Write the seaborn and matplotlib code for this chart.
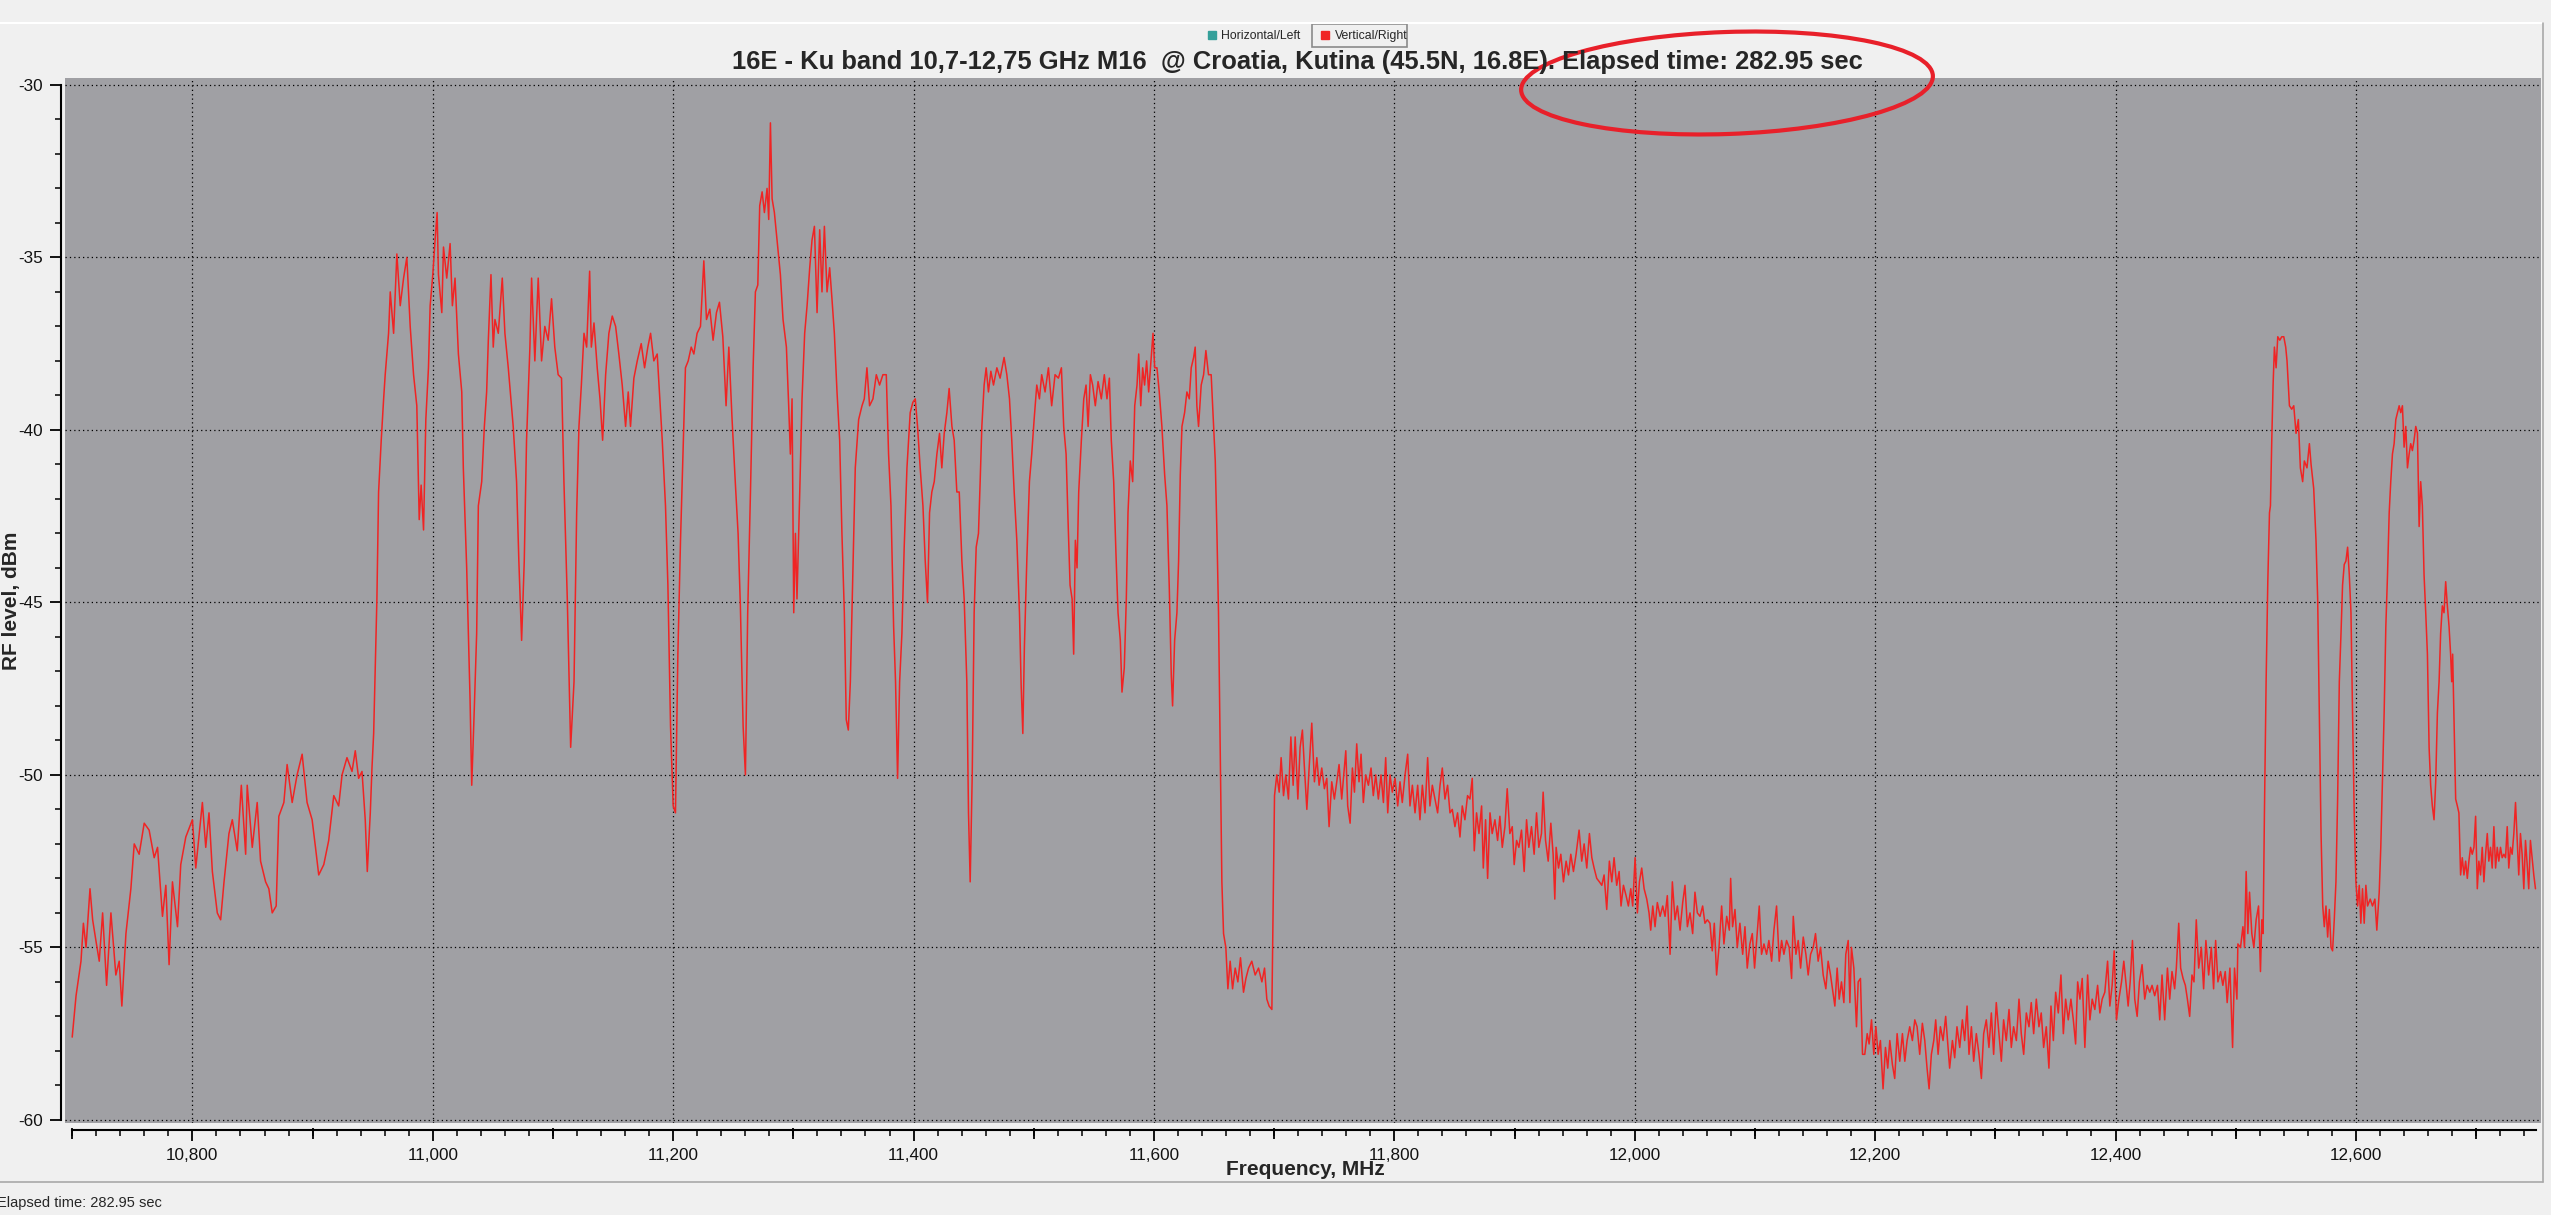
import numpy as np
import pandas as pd
import seaborn as sns
import matplotlib.pyplot as plt
from matplotlib.patches import Ellipse, Rectangle
from matplotlib.lines import Line2D
from matplotlib.ticker import MultipleLocator, FuncFormatter

# spectrum trace (Vertical/Right) as (MHz, dBm)
seg_low = [(10700, -57.6), (10703.2, -56.4), (10707.3, -55.4), (10709.3, -54.3), (10711.5, -55.0), (10714.8, -53.3),
           (10717, -54.2), (10719.7, -54.8), (10722.5, -55.4), (10725.3, -54.0), (10728.6, -56.1), (10732.2, -54.0),
           (10736.3, -55.8), (10739.1, -55.4), (10741.3, -56.7), (10744.7, -54.6), (10748.8, -53.3), (10751.6, -52.0),
           (10755.7, -52.3), (10759.9, -51.4), (10764, -51.6), (10768.2, -52.4), (10771, -52.1), (10775.1, -54.1),
           (10777.9, -53.2), (10780.6, -55.5), (10783.4, -53.1), (10787.6, -54.4), (10790.3, -52.6), (10794.5, -51.8),
           (10800, -51.3), (10802.8, -52.7), (10808.3, -50.8), (10811.1, -52.1), (10813.8, -51.1), (10816.6, -52.8),
           (10820.7, -54.0), (10823.5, -54.2), (10826.3, -53.1), (10830.4, -51.7), (10833.2, -51.3), (10837.3, -52.2),
           (10840.7, -50.3), (10844.3, -52.3), (10845.6, -50.3), (10849.8, -52.1), (10853.9, -50.8), (10856.7, -52.5),
           (10860.9, -53.1), (10863.6, -53.3), (10866.4, -54.0), (10869.7, -53.8), (10871.9, -51.2), (10876.1, -50.8),
           (10878.8, -49.7), (10883, -50.8), (10887.1, -50.0), (10891.3, -49.4), (10895.4, -50.8), (10899.6, -51.3),
           (10902.4, -52.1), (10905.1, -52.9), (10909.3, -52.6), (10913.4, -51.9), (10917.6, -50.6), (10921.7, -50.9),
           (10924.5, -50.0), (10928.6, -49.5), (10932.8, -49.9), (10935.5, -49.3), (10938.3, -50.1), (10941.1, -49.9),
           (10943.8, -51.3), (10945.5, -52.8), (10948, -51.1), (10949.4, -49.8), (10950.8, -48.8), (10952.1, -46.9),
           (10953.5, -44.9), (10954.9, -41.8), (10957.1, -40.3), (10959.1, -39.1), (10960.4, -38.4), (10963.2, -37.2),
           (10964.6, -36.0), (10967.4, -37.2), (10970.1, -34.9), (10972.9, -36.4), (10975.7, -35.6), (10978.4, -35.0),
           (10981.2, -37.0), (10984, -38.4), (10986.7, -39.3), (10988.7, -42.6), (10990.3, -41.6), (10992.3, -42.9),
           (10994.2, -39.7), (10996.4, -38.2), (10997.8, -36.4), (11000, -35.5), (11001.9, -34.5), (11003.6, -33.7),
           (11004.7, -35.5), (11007.5, -36.6), (11008.9, -34.7), (11011.6, -35.6), (11014.4, -34.6), (11016.3, -36.4),
           (11018.5, -35.6), (11021.3, -37.8), (11024.1, -38.9), (11025.4, -41.1), (11028.2, -44.0), (11031, -47.8),
           (11032.4, -50.3), (11034.6, -48.0), (11036.5, -45.9), (11037.9, -42.2), (11040.7, -41.5), (11042.9, -39.9),
           (11044.8, -38.9), (11046.2, -37.4), (11048.4, -35.5), (11050.3, -37.6), (11051.7, -36.8), (11054.5, -37.2),
           (11057.8, -35.6), (11060, -37.2), (11062.8, -38.2), (11066.9, -39.9), (11069.7, -41.5), (11071.6, -43.8),
           (11073.9, -46.1), (11076.1, -43.8), (11078, -40.3), (11080.8, -37.6), (11082.2, -35.6), (11084.9, -38.0),
           (11087.7, -35.6), (11090.5, -38.0), (11093.2, -37.0), (11096, -37.4), (11098.8, -36.2), (11101.5, -37.6),
           (11104.3, -38.4), (11107.1, -38.5)]

seg_mid = [(11109.1, -41.5), (11111.9, -44.9), (11114.7, -49.2), (11117.5, -47.3), (11119.7, -42.4), (11121.6, -39.9),
           (11123.6, -38.7), (11125.8, -37.2), (11128, -37.6), (11130.5, -35.4), (11131.9, -37.6), (11134.1, -36.9),
           (11136.8, -38.2), (11139.1, -39.1), (11141.3, -40.3), (11143.8, -38.4), (11146.5, -37.2), (11149.3, -36.7),
           (11152.1, -37.0), (11154.8, -37.8), (11157.6, -38.7), (11160.4, -39.9), (11162.6, -38.9), (11164.5, -39.9),
           (11167.3, -38.5), (11170.1, -38.0), (11173.4, -37.5), (11176.2, -38.2), (11178.9, -37.6), (11181.2, -37.2),
           (11183.9, -38.0), (11186.7, -37.8), (11188.9, -39.1), (11190.9, -40.3), (11193.6, -42.2), (11195.6, -44.5),
           (11197.8, -48.6), (11200, -50.9), (11201.9, -51.1), (11203.9, -46.5), (11206.1, -43.2), (11208, -40.9),
           (11210.2, -38.2), (11212.5, -38.0), (11215, -37.6), (11217.2, -37.8), (11219.9, -37.2), (11222.7, -37.0),
           (11225.5, -35.1), (11227.7, -36.8), (11230.5, -36.5), (11233.2, -37.4), (11236, -36.6), (11238.5, -36.3),
           (11241.3, -37.3), (11244, -39.3), (11246.3, -37.6), (11249, -39.7), (11251.8, -41.6), (11254, -43.0),
           (11255.9, -45.1), (11258.2, -48.6), (11260.1, -50.0), (11262, -45.3), (11264.3, -41.8), (11266.5, -38.2),
           (11268.4, -36.0), (11270.4, -35.8), (11272, -33.5), (11274, -33.1), (11275.9, -33.7), (11278.1, -33.0),
           (11279.5, -33.9), (11280.9, -31.1), (11282.3, -33.3), (11284.2, -33.7), (11286.4, -34.5), (11289.2, -35.5),
           (11291.4, -36.8), (11294.2, -37.6), (11296.1, -39.3), (11297.5, -40.7), (11298.9, -39.1), (11300.3, -45.3),
           (11301.7, -43.0), (11303, -44.9), (11305.3, -41.8), (11307.2, -39.1), (11309.4, -37.2), (11311.4, -36.4),
           (11313.6, -35.3), (11315.5, -34.5), (11317.5, -34.1), (11319.7, -36.6), (11321.9, -34.2), (11323.8, -36.0),
           (11325.8, -34.1), (11328, -36.0), (11330.2, -35.3), (11332.1, -36.2), (11334.1, -37.2), (11336.3, -38.9),
           (11338.5, -40.3), (11340.4, -43.0), (11342.4, -45.3), (11344, -48.4), (11345.7, -48.7), (11347.4, -47.3),
           (11349.6, -44.0), (11351.5, -41.1), (11354.3, -39.7), (11357.1, -39.3), (11359, -39.1), (11361.2, -38.2),
           (11363.4, -39.3), (11366.2, -39.1), (11369, -38.4), (11371.7, -38.7), (11374.5, -38.4), (11377.3, -38.4),
           (11379.2, -40.7), (11381.2, -42.2), (11383.4, -45.7), (11385, -47.3), (11386.7, -50.1), (11388.4, -47.3),
           (11390.3, -45.9), (11392.2, -43.4), (11394.5, -41.1), (11397.2, -39.5), (11399.4, -39.2), (11401.4, -39.1),
           (11403.3, -39.9), (11405.5, -41.1), (11407.8, -42.2), (11409.7, -43.8), (11411.6, -45.0), (11413.3, -42.4),
           (11415.2, -41.8), (11417.2, -41.5), (11419.4, -40.7), (11421.6, -40.1), (11423.5, -41.1), (11425.5, -40.1),
           (11427.7, -39.5), (11429.6, -38.8), (11431.9, -39.9), (11433.8, -40.3), (11436, -41.8), (11438, -41.8),
           (11440.2, -43.8), (11442.1, -44.9), (11444.3, -47.3), (11445.7, -51.1), (11447.1, -53.1), (11448.8, -50.0),
           (11450.4, -45.3), (11452.1, -43.4), (11454, -43.0), (11455.4, -41.5), (11456.8, -39.9), (11458.7, -38.7),
           (11460.4, -38.2), (11462.3, -38.9), (11464.3, -38.3), (11466.5, -38.7), (11469.3, -38.2), (11472, -38.5),
           (11475.3, -37.9), (11477.6, -38.4), (11479.8, -39.1), (11481.7, -40.3), (11483.7, -41.8), (11485.9, -43.2),
           (11488.1, -45.3), (11489.5, -47.4), (11490.9, -48.8), (11492.2, -46.3), (11494.2, -43.8), (11496.4, -41.5),
           (11498.3, -40.7), (11500.3, -39.7), (11502.5, -38.7), (11504.7, -39.1), (11506.6, -38.4), (11509.4, -38.9),
           (11512.2, -38.2), (11514.9, -39.3), (11517.7, -38.4), (11520.5, -38.5)]

seg_edge = [(11523, -38.2), (11524.9, -39.9), (11526.9, -40.7), (11528.5, -42.6), (11530.2, -44.5), (11531.9, -44.9),
            (11533.2, -46.5), (11534.6, -43.2), (11536, -44.0), (11537.4, -41.8), (11539.6, -40.3), (11541.6, -39.1),
            (11543.5, -38.7), (11545.2, -39.9), (11547.1, -38.4), (11549, -38.7), (11551.2, -39.3), (11553.5, -38.6),
            (11556.2, -39.1), (11558.7, -38.4), (11560.9, -39.1), (11562.9, -38.5), (11564.5, -40.3), (11566.5, -41.5),
            (11568.4, -43.6), (11570.1, -45.3), (11572, -46.1), (11573.4, -47.6), (11575.3, -46.9), (11577, -44.9),
            (11578.4, -42.4), (11580.3, -40.9), (11582.3, -41.5), (11584, -39.3), (11585.9, -38.7), (11587.3, -37.8),
            (11589, -39.3), (11590.6, -38.2), (11592.2, -38.7), (11593.9, -38.0), (11595.6, -38.9), (11597.5, -38.0),
            (11599.2, -37.2), (11600.6, -38.2), (11602.5, -38.2), (11604.4, -38.9), (11606.6, -39.9), (11608.9, -41.3),
            (11610.8, -42.2), (11612.7, -44.5), (11614.4, -47.1), (11615.5, -48.0), (11617.2, -46.1), (11619.1, -45.3),
            (11620.5, -43.8), (11621.9, -41.3), (11623.3, -39.9), (11625.5, -39.5), (11627.4, -38.9), (11629.4, -39.1),
            (11631, -38.2), (11633, -37.9), (11634.3, -37.6), (11635.7, -39.3), (11637.1, -39.9), (11639.3, -38.7),
            (11641.3, -38.4), (11643.2, -37.7), (11645.4, -38.4), (11647.6, -38.4), (11649.6, -39.9), (11651, -40.9),
            (11652.4, -43.0), (11653.7, -45.3), (11655.1, -49.2), (11656.5, -53.1), (11657.9, -54.6), (11659.8, -55.0),
            (11661.5, -56.2), (11663.4, -55.4), (11665.4, -56.2), (11667.6, -55.6), (11669.8, -56.0), (11672, -55.3),
            (11674.5, -56.3), (11676.5, -55.9), (11678.7, -55.6), (11681.4, -55.4), (11684.2, -55.8), (11687, -55.6),
            (11689.8, -56.0), (11692, -55.6), (11693.9, -56.5), (11695.8, -56.7), (11698.1, -56.8), (11699.4, -53.1),
            (11700.3, -50.6), (11702.2, -50.0), (11704.2, -50.5), (11705.8, -49.5), (11707.8, -50.6), (11709.7, -50.0),
            (11711.9, -50.7), (11713.9, -48.9), (11715.8, -50.3), (11717.5, -48.9), (11719.7, -50.7), (11721.6, -49.2),
            (11723.5, -48.7), (11725.2, -49.8), (11727.2, -51.0), (11729.1, -49.8), (11731.3, -48.5), (11733.5, -50.2),
            (11735.5, -49.5), (11737.4, -50.3), (11739.6, -49.8), (11741.8, -50.4), (11743.8, -50.1), (11745.7, -51.5),
            (11747.9, -50.2), (11750.1, -50.7), (11752.1, -50.2), (11754, -49.7), (11756.2, -50.7), (11757.9, -50.0),
            (11759.6, -49.3), (11761.2, -50.9), (11763.2, -51.4), (11765.1, -49.8), (11766.8, -50.5), (11768.7, -49.1),
            (11770.6, -50.2), (11772.3, -49.4), (11774.2, -50.8), (11776.2, -50.0), (11778.4, -50.3), (11780.6, -49.8),
            (11782.5, -50.6), (11784.5, -50.0), (11786.7, -50.7), (11788.9, -50.0), (11790.9, -50.8), (11792.8, -49.5),
            (11794.5, -51.1), (11796.4, -50.0), (11798.3, -50.5), (11800.6, -50.1), (11802.8, -50.9), (11804.7, -50.2),
            (11806.6, -50.8), (11808.9, -50.0), (11811.1, -49.4), (11813, -50.9), (11815, -50.3), (11817.2, -51.1),
            (11819.4, -50.3), (11821.3, -51.3), (11823.3, -50.3), (11825.5, -51.1), (11827.7, -49.5), (11829.6, -50.9),
            (11831.6, -50.3), (11833.8, -50.7), (11836, -51.1), (11838, -50.3), (11839.9, -49.8), (11842.1, -50.7),
            (11844.3, -50.3), (11846.3, -51.1), (11848.2, -51.0), (11850.4, -51.5), (11852.6, -51.1), (11854.6, -51.8),
            (11856.5, -50.9), (11858.7, -51.3), (11860.9, -50.6), (11862.9, -50.7), (11864.8, -50.1), (11866.5, -52.2),
            (11868.4, -51.1), (11870.4, -51.7), (11872.6, -50.9), (11874, -52.7), (11875.9, -51.3), (11877.6, -53.0),
            (11879.6, -51.1), (11881.4, -51.7), (11883.7, -51.3), (11885.9, -51.9), (11887.8, -51.2), (11889.8, -52.1),
            (11892, -51.5), (11893.9, -50.4), (11896.1, -51.7), (11898.1, -51.5), (11899.7, -52.6), (11901.7, -51.9),
            (11903.6, -52.1), (11905.8, -51.6), (11908, -52.8), (11910, -51.3), (11911.9, -52.1), (11914.1, -51.5),
            (11916.3, -52.3), (11918.3, -51.1), (11920.2, -52.1), (11922.4, -51.7), (11923.8, -50.5), (11925.8, -51.9),
            (11928, -52.5), (11930.2, -51.4), (11932.1, -52.3), (11933.5, -53.6)]

seg_slope = [(11934.6, -52.1), (11936.6, -52.7), (11938.5, -52.3), (11940.7, -53.1), (11942.9, -52.5), (11944.9, -52.9),
             (11946.8, -52.3), (11949, -52.8), (11951.2, -52.3), (11953.7, -51.6), (11955.9, -52.5), (11957.9, -52.0),
             (11960.1, -52.7), (11962.3, -51.7), (11964.3, -52.4), (11966.2, -52.7), (11968.4, -53.0), (11970.6, -53.1),
             (11972.6, -53.2), (11974.5, -52.9), (11976.7, -53.9), (11978.9, -52.5), (11980.9, -53.1), (11982.8, -52.4),
             (11985, -53.2), (11987, -52.8), (11988.6, -53.8), (11990.6, -53.2), (11992.8, -53.5), (11994.7, -53.8),
             (11996.7, -53.3), (11998.3, -53.8), (12000.3, -52.4), (12002.2, -54.0), (12003.9, -53.1), (12005.8, -52.7),
             (12007.8, -53.3), (12010, -53.6), (12011.9, -54.0), (12013.3, -54.5), (12015, -53.8), (12016.9, -54.4),
             (12018.8, -53.7), (12021.1, -54.1), (12023.3, -53.8), (12025.2, -54.1), (12027.1, -53.5), (12029.4, -55.2),
             (12031.3, -53.1), (12033.5, -54.2), (12035.5, -53.8), (12037.7, -54.5), (12039.9, -53.7), (12041.8, -53.2),
             (12043.8, -54.4), (12046, -54.0), (12048.2, -54.6), (12050.1, -53.4), (12052.1, -54.0), (12054.3, -54.1),
             (12056.5, -53.8), (12058.4, -54.3), (12060.4, -54.2), (12062.6, -54.3), (12064.5, -55.1), (12066.2, -54.3),
             (12068.1, -55.8), (12070.1, -55.0), (12072.3, -53.8), (12074.2, -54.9), (12076.5, -54.1), (12078.7, -54.5),
             (12079.8, -53.0), (12081.4, -54.4), (12083.4, -53.9), (12085.3, -55.0), (12087.5, -54.3), (12089.8, -55.2),
             (12091.7, -54.4), (12093.6, -55.6), (12095.8, -54.9), (12097.8, -54.6), (12099.7, -55.6), (12101.4, -54.8),
             (12103.6, -53.8), (12105.5, -55.2), (12107.5, -54.9), (12109.7, -55.2), (12111.6, -54.8), (12113.9, -55.4),
             (12115.8, -54.5), (12118, -53.8), (12120.2, -55.4), (12122.2, -54.8), (12124.1, -55.2), (12126.3, -54.8),
             (12128.5, -55.0), (12130.5, -55.9), (12131.9, -54.1), (12134.1, -55.2), (12136, -54.8), (12138, -55.6),
             (12140.2, -54.7), (12142.4, -55.2), (12144.3, -55.8), (12146.3, -55.2), (12148.5, -55.0), (12150.4, -54.6),
             (12152.6, -55.4), (12154.6, -55.0), (12156.8, -55.8), (12159, -56.2), (12160.9, -55.4), (12162.9, -55.8),
             (12164.5, -56.2), (12166.5, -56.7), (12168.4, -55.6), (12170.1, -56.5), (12172, -56.0), (12174, -56.6),
             (12175.6, -55.2), (12177.6, -54.8), (12179, -56.6), (12180.3, -55.0), (12182.3, -55.6), (12184.5, -57.3),
             (12185.9, -56.0), (12187.8, -55.9), (12189.5, -58.1), (12191.4, -58.1), (12193.4, -57.5), (12195, -57.8),
             (12197, -57.1), (12198.9, -58.1), (12200.6, -57.3), (12202.5, -58.1), (12204.4, -57.7), (12206.6, -59.1),
             (12208.6, -57.9), (12210.5, -58.5), (12212.2, -57.7), (12214.4, -58.4), (12216.3, -58.8), (12218.3, -57.5),
             (12220.5, -58.3), (12222.7, -57.5), (12224.7, -58.3), (12226.6, -57.7), (12228.8, -57.3), (12231, -57.7),
             (12233, -57.1), (12234.9, -57.3), (12237.1, -58.1), (12239.3, -57.2), (12241.3, -57.7), (12243.2, -58.5),
             (12244.9, -59.1), (12246.8, -58.1), (12248.8, -57.7), (12250.4, -57.1), (12252.4, -58.1), (12254.3, -57.3),
             (12256.5, -57.7), (12258.7, -57.0), (12260.7, -57.9), (12262, -58.5), (12264.3, -57.7), (12266.2, -58.2),
             (12268.1, -57.3), (12270.4, -57.9), (12272.6, -57.1), (12274.5, -57.7), (12276.5, -56.7), (12278.1, -58.1),
             (12280.1, -57.3), (12282, -58.3), (12284.2, -57.5), (12286.4, -58.1), (12288.4, -58.8), (12290.3, -57.5),
             (12292.5, -57.1), (12294.7, -57.9), (12296.7, -56.9), (12298.6, -58.1), (12300.8, -56.6), (12303, -57.5),
             (12305, -58.3), (12306.9, -57.1), (12309.1, -57.7), (12311.4, -56.8), (12313.3, -57.9), (12315.2, -57.3),
             (12317.5, -57.7), (12319.7, -56.5), (12321.6, -57.5), (12323.6, -58.1), (12325.8, -56.9), (12328, -57.3),
             (12329.9, -56.6), (12331.9, -57.5), (12334.1, -56.5), (12336.3, -57.3), (12338.2, -56.9), (12340.2, -57.9),
             (12342.4, -57.3), (12344.6, -58.5)]

seg_high = [(12346.3, -56.7), (12348.3, -57.7), (12350.2, -56.3), (12352.4, -56.9), (12354.6, -55.8), (12356.6, -57.5),
            (12358.5, -56.5), (12360.7, -57.1), (12362.9, -56.5), (12364.9, -57.1), (12366.8, -57.8), (12368.5, -56.0),
            (12370.4, -56.5), (12372.3, -55.9), (12374.5, -57.9), (12376.8, -55.8), (12378.7, -57.1), (12380.6, -56.5),
            (12382.8, -56.8), (12385.1, -56.1), (12387, -56.9), (12388.9, -56.5), (12391.1, -56.3), (12393.4, -55.4),
            (12395.3, -56.7), (12397.2, -56.1), (12398.9, -55.1), (12400.8, -57.1), (12402.8, -56.5), (12405, -56.0),
            (12406.9, -55.4), (12408.9, -56.1), (12410.5, -56.7), (12412.2, -56.0), (12414.1, -54.8), (12416, -56.5),
            (12418, -57.0), (12419.9, -56.0), (12422.1, -55.5), (12424.3, -56.5), (12426.3, -56.1), (12428.5, -56.3),
            (12430.4, -56.1), (12432.6, -56.4), (12434.9, -56.1), (12436.8, -57.1), (12438.7, -55.8), (12440.9, -57.1),
            (12443.2, -55.6), (12445.1, -56.5), (12447, -55.7), (12449.2, -56.2), (12450.6, -55.6), (12452.6, -54.3),
            (12454.2, -55.6), (12456.2, -55.9), (12458.1, -56.1), (12459.8, -56.5), (12461.7, -57.0), (12463.6, -55.8),
            (12465.3, -56.0), (12467.2, -54.2), (12469.2, -55.6), (12471.4, -55.0), (12473.3, -56.2), (12475.2, -54.8),
            (12477.5, -55.8), (12479.7, -55.0), (12481.6, -56.2), (12483.3, -54.8), (12485.2, -56.0), (12487.4, -55.7),
            (12489.3, -56.1), (12491.3, -55.7), (12492.9, -56.6), (12495.2, -55.6), (12497.4, -57.9), (12499, -55.6),
            (12501, -56.5), (12501.8, -54.9), (12504, -55.0), (12506, -54.4), (12507.3, -55.0), (12508.7, -52.8),
            (12510.1, -54.6), (12511.5, -53.4), (12513.4, -54.6), (12515.1, -55.0), (12517, -54.2), (12519, -53.8),
            (12520.6, -55.7), (12521.7, -54.2), (12522.8, -54.6), (12523.9, -51.1), (12525.3, -47.3), (12526.7, -44.4),
            (12528.1, -42.4), (12528.9, -42.2), (12530, -40.3), (12531.1, -38.7), (12532.2, -37.6), (12533.6, -38.2),
            (12535, -37.3), (12536.7, -37.4), (12538.3, -37.3), (12540, -37.3), (12541.6, -37.6), (12542.7, -38.0),
            (12544.7, -39.3), (12546.6, -39.4), (12548.3, -39.3), (12550.2, -40.1), (12552.1, -39.7), (12553.8, -41.1),
            (12555.7, -41.5), (12557.1, -40.9), (12559.3, -41.1), (12561.3, -40.4), (12562.7, -41.0), (12564.9, -41.7),
            (12566.8, -43.2), (12568.2, -44.9), (12569.6, -48.2), (12571, -51.7), (12572.4, -53.8), (12573.7, -54.4),
            (12575.1, -53.8), (12576.5, -54.7), (12577.9, -53.9), (12579.3, -55.0), (12580.6, -55.1), (12582, -54.2),
            (12583.4, -53.1), (12584.8, -50.7), (12586.2, -47.3), (12587.6, -45.9), (12588.9, -44.5), (12590.3, -43.9),
            (12591.7, -43.8), (12593.1, -43.4), (12594.5, -44.2), (12595.9, -45.3), (12597.2, -48.2), (12598.6, -51.1),
            (12600, -53.1), (12601.4, -53.8), (12602.8, -53.2), (12604.1, -54.3), (12605.5, -53.3), (12606.9, -54.3),
            (12608.3, -53.2), (12609.7, -53.8), (12611.9, -53.6), (12613.8, -53.8), (12615.8, -53.6), (12617.4, -54.5),
            (12619.4, -53.4), (12620.7, -52.1), (12622.1, -50.2), (12623.5, -48.2), (12624.9, -45.7), (12626.3, -44.2),
            (12627.7, -42.4), (12629, -41.5), (12630.4, -40.7), (12631.8, -40.4), (12633.2, -39.7), (12634.6, -39.5),
            (12636, -39.3), (12637.3, -39.5), (12638.7, -39.3), (12640.1, -40.5), (12641.5, -39.9), (12642.9, -41.1),
            (12644.3, -40.7), (12645.6, -40.4), (12647, -40.6), (12648.4, -40.3), (12649.8, -39.9), (12651.2, -40.1),
            (12652.6, -42.8), (12653.9, -41.5), (12655.3, -42.2), (12656.7, -44.2), (12658.1, -45.3), (12659.5, -46.5),
            (12660.9, -49.2), (12662.2, -50.3), (12663.6, -50.9), (12665, -51.3), (12666.4, -50.2), (12667.8, -48.2),
            (12669.2, -47.3), (12670.5, -45.9), (12671.9, -45.1), (12673.3, -45.3), (12674.7, -44.4), (12676.1, -45.1),
            (12677.5, -45.7), (12678.8, -46.5), (12679.7, -47.3), (12680.5, -46.5), (12681.6, -48.4), (12683, -50.7),
            (12684.4, -50.9), (12685.7, -51.1), (12687.1, -52.9), (12688.5, -52.4), (12689.9, -52.9), (12691.3, -52.5),
            (12692.7, -53.0), (12694, -52.5), (12695.4, -52.1), (12696.8, -52.3), (12698.2, -52.1), (12699.6, -51.2),
            (12701, -53.3), (12702.3, -52.5), (12703.7, -52.9), (12705.1, -52.1), (12706.5, -53.1), (12707.9, -52.3),
            (12709.3, -51.7), (12710.6, -52.5), (12712, -52.1), (12713.4, -52.7), (12714.8, -51.5), (12716.2, -52.7),
            (12717.6, -52.1), (12718.9, -52.5), (12720.3, -52.1), (12721.7, -52.4), (12723.1, -52.3), (12724.5, -52.4),
            (12725.9, -51.5), (12727.2, -52.7), (12728.6, -52.1), (12730, -52.3), (12731.4, -51.7), (12732.8, -50.8),
            (12734.2, -51.9), (12735.5, -52.9), (12736.9, -51.7), (12738.3, -52.3), (12739.7, -53.3), (12741.1, -51.9),
            (12742.5, -52.6), (12743.8, -53.3), (12745.2, -51.9), (12746.6, -52.4), (12748, -52.9), (12749.4, -53.3)]

x_labelled = [10800, 11000, 11200, 11400, 11600, 11800, 12000, 12200, 12400, 12600]
x_unlabelled = [10700, 10900, 11100, 11300, 11500, 11700, 11900, 12100, 12300, 12500, 12700]
y_major = [-30, -35, -40, -45, -50, -55, -60]

title = "16E - Ku band 10,7-12,75 GHz M16  @ Croatia, Kutina (45.5N, 16.8E). Elapsed time: 282.95 sec"
status = "Elapsed time: 282.95 sec"
legend_labels = ["Horizontal/Left", "Vertical/Right"]

trace = pd.DataFrame(seg_low + seg_mid + seg_edge + seg_slope + seg_high, columns=["freq", "level"])

W, H = 2551, 1215
BG = "#f0f0f0"
PLOT_BG = "#a0a0a4"
RED = "#f02424"


def fx(x):
    return x / W


def fy(y):
    return 1 - y / H


sns.set_style("white")
plt.rcParams["font.family"] = ["Liberation Sans", "DejaVu Sans"]

fig = plt.figure(figsize=(W / 100, H / 100), dpi=100, facecolor=BG)
ax = fig.add_axes([fx(65), fy(1123), fx(2541 - 65), (1123 - 78) / H])
ax.set_facecolor(PLOT_BG)

sns.lineplot(data=trace, x="freq", y="level", ax=ax, color=RED, lw=1.1,
             estimator=None, sort=False, legend=False)

ax.set_xlim(10694, 12754)
ax.set_ylim(-60.09, -29.8)

ax.xaxis.set_major_locator(plt.FixedLocator(x_labelled))
ax.xaxis.set_minor_locator(MultipleLocator(20))
ax.xaxis.set_major_formatter(FuncFormatter(lambda v, p: f"{int(v):,}"))
ax.yaxis.set_major_locator(plt.FixedLocator(y_major))
ax.yaxis.set_minor_locator(MultipleLocator(1))
ax.yaxis.set_major_formatter(FuncFormatter(lambda v, p: f"{int(v)}"))

ax.grid(True, which="major", color="black", linestyle=(0, (1, 2.5)), linewidth=0.9)
ax.tick_params(which="major", direction="out", length=8, width=1.3, color="black",
               labelsize=12.3, labelcolor="#111111", pad=5)
ax.tick_params(which="minor", direction="out", length=4, width=1.1, color="black")
ax.tick_params(axis="x", which="both", bottom=True)
ax.tick_params(axis="y", which="both", left=True)

for side in ["top", "right"]:
    ax.spines[side].set_visible(False)
ax.spines["left"].set_position(("outward", 3))
ax.spines["left"].set_bounds(-60, -30)
ax.spines["bottom"].set_position(("outward", 5))
ax.spines["bottom"].set_bounds(10700, 12750)
for side in ["left", "bottom"]:
    ax.spines[side].set_color("black")
    ax.spines[side].set_linewidth(1.5)

# longer unlabelled ticks every other 100 MHz, no grid line
sec = ax.secondary_xaxis(-5 / 1045)
sec.set_xticks(x_unlabelled)
sec.tick_params(axis="x", direction="out", length=8, width=1.3, color="black", labelbottom=False)
sec.spines["bottom"].set_visible(False)

ax.set_xlabel("Frequency, MHz", fontsize=15, fontweight="bold")
ax.set_ylabel("RF level, dBm", fontsize=15, fontweight="bold")
ax.xaxis.set_label_coords((1305 - 65) / 2476, -(1160 - 1123) / 1045)
ax.yaxis.set_label_coords(-(65 - 21) / 2476, 0.5)

fig.text(fx(1297), fy(62), title, ha="center", va="center", fontsize=18.4, fontweight="bold")
fig.text(fx(-3), fy(1203), status, ha="left", va="center", fontsize=10.5)

# legend strip at the top
handles = [Line2D([], [], marker="s", ls="", color="#35a09a", markersize=6),
           Line2D([], [], marker="s", ls="", color=RED, markersize=6)]
fig.legend(handles, legend_labels, loc="center", bbox_to_anchor=(fx(1307), fy(36)), ncol=2,
           frameon=False, fontsize=8.8, handlelength=0.8, handletextpad=0.4, columnspacing=1.6)
fig.add_artist(Rectangle((fx(1312), fy(47)), fx(95), 23 / H, transform=fig.transFigure,
                         fill=False, edgecolor="#8a8a8a", lw=1.2))

# window frame lines
fig.add_artist(Line2D([0, fx(2543)], [fy(23), fy(23)], transform=fig.transFigure, color="white", lw=1.5))
fig.add_artist(Line2D([fx(2543), fx(2543)], [fy(23), fy(1182)], transform=fig.transFigure, color="#a8a8a8", lw=1.2))
fig.add_artist(Line2D([0, fx(2543)], [fy(1182), fy(1182)], transform=fig.transFigure, color="#a8a8a8", lw=1.2))

# hand-drawn red ellipse around the elapsed time
fig.add_artist(Ellipse((17.27, (H - 83) / 100), 4.12, 1.02, angle=2, transform=fig.dpi_scale_trans,
                       fill=False, edgecolor="#e8202a", lw=3))

fig.savefig("out.png", dpi=100, facecolor=BG)
